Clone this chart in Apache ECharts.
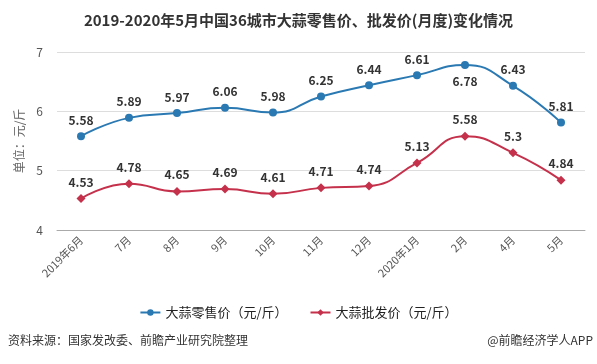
<!DOCTYPE html>
<html><head><meta charset="utf-8">
<script src="https://cdn.jsdelivr.net/npm/echarts@6/dist/echarts.min.js"></script>
<style>html,body{margin:0;padding:0;background:#fff}#c{width:597px;height:364px}</style>
</head><body><div id="c"></div>
<script>
const categories = ['2019年6月','7月','8月','9月','10月','11月','12月','2020年1月','2月','4月','5月'];
const retail = [5.58,5.89,5.97,6.06,5.98,6.25,6.44,6.61,6.78,6.43,5.81];
const wholesale = [4.53,4.78,4.65,4.69,4.61,4.71,4.74,5.13,5.58,5.3,4.84];
const yTicks = [4,5,6,7];
const font = '"Microsoft YaHei","Noto Sans CJK SC",sans-serif';
const chart = echarts.init(document.getElementById('c'));
const lbl = {show:true, position:'top', distance:6, color:'#333', fontWeight:'bold', fontSize:12, fontFamily:font};
chart.setOption({
  animation:false,
  title:{text:'2019-2020年5月中国36城市大蒜零售价、批发价(月度)变化情况', left:'center', top:8,
    textStyle:{fontSize:15, fontWeight:'bold', color:'#333', fontFamily:font}},
  grid:{left:57, right:12, top:52, height:178},
  legend:{bottom:40, left:'center', itemGap:22, itemWidth:20, itemHeight:8,
    textStyle:{fontSize:13, color:'#222', fontFamily:font},
    data:[{name:'大蒜零售价（元/斤）'},{name:'大蒜批发价（元/斤）'}]},
  xAxis:{type:'category', data:categories, boundaryGap:true,
    axisLine:{lineStyle:{color:'#aaa'}}, axisTick:{alignWithLabel:true, length:5, lineStyle:{color:'#aaa'}},
    axisLabel:{rotate:45, color:'#555', fontSize:11, fontFamily:font, margin:8}},
  yAxis:{type:'value', min:yTicks[0], max:yTicks[yTicks.length-1], interval:1,
    name:'单位：元/斤', nameLocation:'middle', nameGap:30, nameRotate:90,
    nameTextStyle:{color:'#666', fontSize:12, fontFamily:font},
    axisLine:{show:false}, axisTick:{show:false},
    axisLabel:{color:'#555', fontSize:12, fontFamily:font, margin:14},
    splitLine:{lineStyle:{color:'#ddd'}}},
  series:[
    {name:'大蒜零售价（元/斤）', type:'line', smooth:0.5, data:retail.map((v,i)=> i===8 ? {value:v, label:{position:'bottom'}} : v),
     symbol:'circle', symbolSize:8, itemStyle:{color:'#2a79b3'}, lineStyle:{width:2, color:'#2a79b3'}, label:lbl},
    {name:'大蒜批发价（元/斤）', type:'line', smooth:0.5, data:wholesale,
     symbol:'diamond', symbolSize:9, itemStyle:{color:'#c5304b'}, lineStyle:{width:2, color:'#c5304b'}, label:lbl}
  ],
  graphic:[
    {type:'text', left:8, top:334, style:{text:'资料来源：国家发改委、前瞻产业研究院整理', fill:'#333', fontSize:12, fontFamily:font}},
    {type:'text', right:4, top:334, style:{text:'@前瞻经济学人APP', fill:'#333', fontSize:12, fontFamily:font}}
  ]
});
</script></body></html>
